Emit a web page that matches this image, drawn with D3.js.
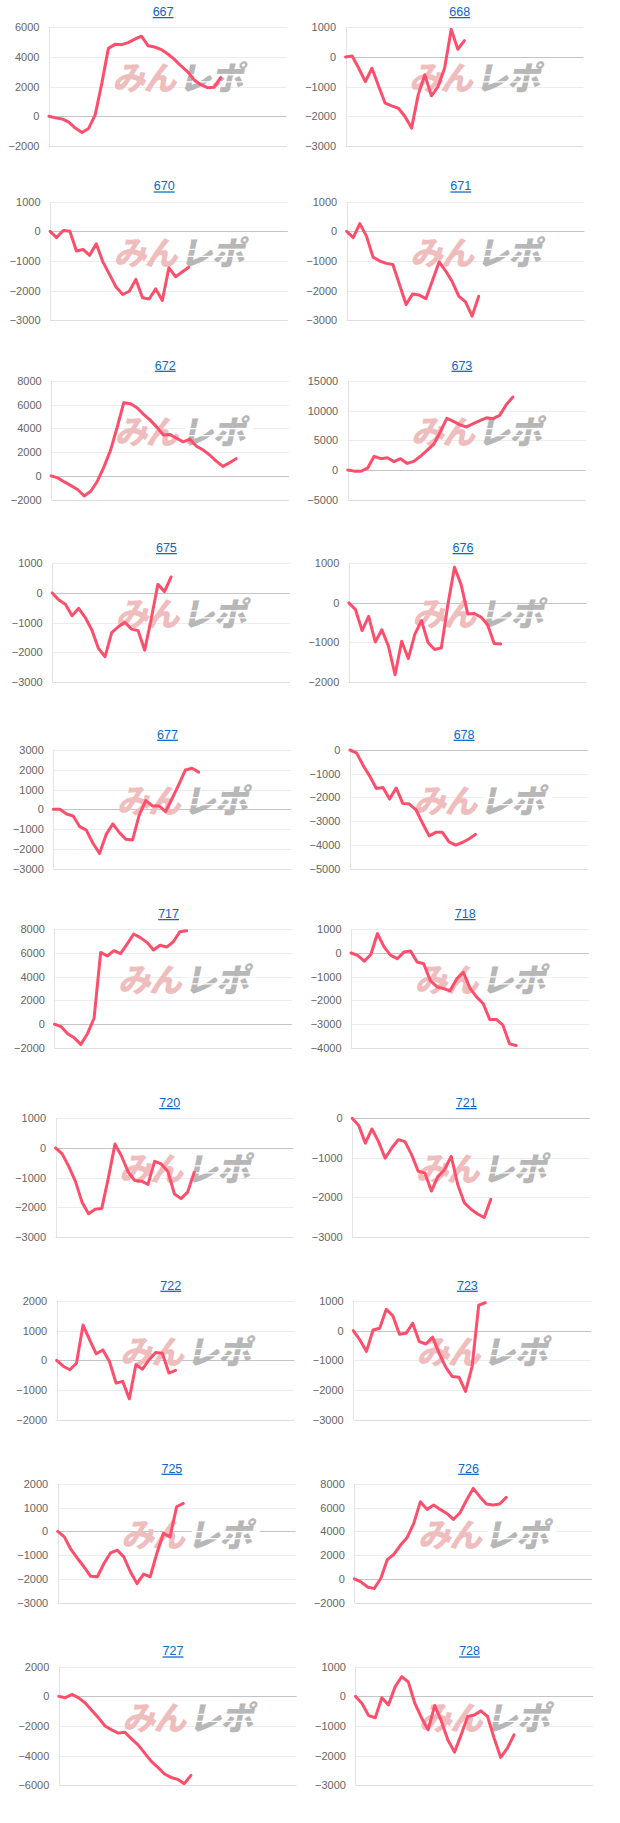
<!DOCTYPE html>
<html><head><meta charset="utf-8">
<script src="https://cdn.jsdelivr.net/npm/d3@7"></script>
<style>
body{margin:0;background:#fff;}
svg{display:block;}
</style></head><body>
<svg id="c" width="620" height="1823"></svg>
<script>
// ---------- DATA ----------
const machines = ["667","668","670","671","672","673","675","676","677","678","717","718","720","721","722","723","725","726","727","728"];
const slotCount = 37;

const s667 = [0,-110,-180,-400,-800,-1100,-830,90,2200,4580,4850,4830,4970,5200,5400,4760,4670,4500,4200,3840,3390,3000,2450,2130,1930,1950,2600];
const s668 = [0,30,-380,-830,-380,-980,-1560,-1650,-1730,-2010,-2400,-1280,-600,-1310,-1000,-380,930,260,550];
const s670 = [0,-210,30,0,-660,-610,-810,-420,-1030,-1450,-1880,-2130,-2020,-1620,-2240,-2280,-1940,-2330,-1230,-1530,-1370,-1210];
const s671 = [0,-210,260,-160,-870,-1000,-1080,-1120,-1790,-2470,-2110,-2150,-2270,-1660,-1030,-1340,-1700,-2190,-2380,-2860,-2190];
const s672 = [0,-170,-510,-820,-1150,-1700,-1300,-450,760,2170,4100,6170,6080,5750,5190,4700,4110,3450,3480,3170,2870,3100,2500,2190,1760,1250,800,1100,1450];
const s673 = [0,-200,-220,300,2300,1900,2050,1400,1900,1100,1450,2300,3300,4300,6400,8700,8200,7600,7250,7800,8300,8800,8650,9200,11000,12300];
const s675 = [0,-240,-380,-770,-520,-830,-1250,-1870,-2150,-1340,-1140,-990,-1220,-1270,-1930,-860,290,45,540];
const s676 = [0,-170,-700,-340,-990,-680,-1100,-1820,-970,-1410,-790,-450,-1010,-1180,-1140,-40,900,460,-280,-270,-360,-550,-1030,-1040];
const s677 = [0,0,-240,-340,-880,-1050,-1720,-2230,-1270,-740,-1180,-1520,-1550,-290,440,170,170,-120,560,1250,1990,2080,1880];
const s678 = [0,-120,-650,-1100,-1620,-1580,-2070,-1600,-2250,-2280,-2520,-3090,-3620,-3470,-3470,-3870,-4010,-3900,-3750,-3560];
const s717 = [0,-200,-800,-1150,-1700,-800,500,6050,5750,6200,5950,6750,7600,7300,6900,6250,6650,6500,6950,7800,7870];
const s718 = [0,-100,-340,-60,820,260,-100,-240,40,90,-380,-450,-1160,-1420,-1500,-1590,-1090,-810,-1480,-1850,-2130,-2800,-2800,-3040,-3830,-3900];
const s720 = [0,-200,-620,-1120,-1820,-2220,-2070,-2040,-1010,130,-280,-810,-1100,-1120,-1230,-450,-540,-790,-1550,-1710,-1490,-820];
const s721 = [0,-180,-630,-270,-590,-1010,-750,-540,-590,-920,-1340,-1380,-1840,-1470,-1300,-960,-1680,-2140,-2300,-2420,-2510,-2050];
const s722 = [0,-200,-320,-100,1190,690,220,350,-40,-770,-710,-1300,-150,-300,20,260,240,-430,-340];
const s723 = [0,-310,-700,20,80,720,500,-120,-90,250,-370,-450,-220,-760,-1230,-1550,-1570,-2050,-1210,860,940];
const s725 = [0,-230,-760,-1140,-1500,-1890,-1910,-1350,-900,-790,-1070,-1700,-2200,-1800,-1910,-930,-80,-230,1040,1180];
const s726 = [0,-250,-680,-820,30,1630,2080,2850,3490,4680,6510,5860,6230,5860,5520,5010,5580,6650,7630,6930,6310,6230,6310,6870];
const s727 = [0,-90,130,-100,-450,-950,-1450,-2000,-2260,-2480,-2420,-2870,-3270,-3830,-4390,-4790,-5240,-5470,-5600,-5890,-5330];
const s728 = [0,-240,-650,-720,-45,-290,320,660,490,-240,-720,-1130,-310,-830,-1470,-1880,-1300,-680,-630,-490,-680,-1410,-2060,-1750,-1300];

const seriesList = [s667,s668,s670,s671,s672,s673,s675,s676,s677,s678,s717,s718,s720,s721,s722,s723,s725,s726,s727,s728];

const yTicks667 = [-2000,0,2000,4000,6000];
const yTicks668 = [-3000,-2000,-1000,0,1000];
const yTicks672 = [-2000,0,2000,4000,6000,8000];
const yTicks673 = [-5000,0,5000,10000,15000];
const yTicks676 = [-2000,-1000,0,1000];
const yTicks677 = [-3000,-2000,-1000,0,1000,2000,3000];
const yTicks678 = [-5000,-4000,-3000,-2000,-1000,0];
const yTicks718 = [-4000,-3000,-2000,-1000,0,1000];
const yTicks721 = [-3000,-2000,-1000,0];
const yTicks722 = [-2000,-1000,0,1000,2000];
const yTicks725 = [-3000,-2000,-1000,0,1000,2000];
const yTicks727 = [-6000,-4000,-2000,0,2000];
const tickSets = [yTicks667,yTicks668,yTicks668,yTicks668,yTicks672,yTicks673,yTicks668,yTicks676,yTicks677,yTicks678,
                  yTicks672,yTicks718,yTicks668,yTicks721,yTicks722,yTicks668,yTicks725,yTicks672,yTicks727,yTicks668];

// ---------- LAYOUT ----------
const rowTop = [27.3,201.7,381,563.3,750,929.3,1118.3,1301,1484,1666.7];
const plotH = 118.6;
const rightBase = [286.7,583.3];
const rowDrift = 1.1;
const basePlotW = 235;
const lineColor = "rgb(255,78,108)";
const labelFont = "11px 'Liberation Sans', Arial, sans-serif";

const svg = d3.select("#c");

// text measurement
const meas = svg.append("text").style("font", labelFont).attr("x",-100).attr("y",-100);
function tw(s){ meas.text(s); return meas.node().getComputedTextLength(); }
const refW = tw("-2000");

machines.forEach((m,i)=>{
  const r = Math.floor(i/2), c = i%2;
  const right = rightBase[c] + r*rowDrift;
  const ticks = tickSets[i];
  const fmt = d3.format("d");
  const maxW = d3.max(ticks, t=>tw(fmt(t)));
  const left = right - basePlotW - (maxW - refW);
  const top = rowTop[r], bottom = top + plotH;
  const titleX = right - 123.6;

  const g = svg.append("g");

  // title link
  g.append("text").attr("x",titleX).attr("y",top-11.3)
    .attr("text-anchor","middle")
    .style("font","12.5px 'Liberation Sans', Arial, sans-serif")
    .style("fill","#0b67c8").style("text-decoration","underline")
    .text(m);

  const x = d3.scaleLinear().domain([0, slotCount-1]).range([left, right]);
  const y = d3.scaleLinear().domain(d3.extent(ticks)).range([bottom, top]);

  // grid
  ticks.forEach(t=>{
    const yy = Math.round(y(t))+0.5;
    g.append("line").attr("x1",left).attr("x2",right).attr("y1",yy).attr("y2",yy)
      .attr("stroke", t===0 ? "#c4c4c4" : (t===ticks[0] ? "#dedede" : "#ececec"))
      .attr("stroke-width",1);
  });
  // axis line
  const ax = Math.round(left)+0.5;
  g.append("line").attr("x1",ax).attr("x2",ax).attr("y1",top).attr("y2",bottom)
    .attr("stroke","#e4e4e4");

  // tick labels via d3 axis
  const axis = d3.axisLeft(y).tickValues(ticks).tickFormat(fmt).tickSize(0).tickPadding(9.5);
  const ag = g.append("g").attr("transform",`translate(${left},0)`).call(axis);
  ag.select(".domain").remove();
  ag.selectAll("text").style("font",labelFont).attr("fill","#666");

  // watermark
  const wx = titleX + 15, wy = top + 51;
  const wm = g.append("g").attr("transform",`translate(${wx},${wy}) skewX(-12)`);
  wm.append("text").attr("x",-1).attr("y",12).attr("text-anchor","end")
    .style("font","900 33px 'Noto Sans CJK JP', sans-serif").attr("fill","#efbdbd")
    .attr("letter-spacing","-2").text("みん");
  wm.append("text").attr("x",3).attr("y",12).attr("text-anchor","start")
    .style("font","900 33px 'Noto Sans CJK JP', sans-serif").attr("fill","#b7b7b7")
    .attr("letter-spacing","-1").text("レポ");
  [ -4, 3 ].forEach(dy=>{
    wm.append("rect").attr("x",4).attr("y",dy).attr("width",68).attr("height",1.3).attr("fill","#fff");
  });

  // line
  const data = seriesList[i];
  const line = d3.line().x((d,k)=>x(k)).y(d=>y(d));
  g.append("path").datum(data).attr("d",line)
    .attr("fill","none").attr("stroke",lineColor).attr("stroke-width",3)
    .attr("stroke-linejoin","round").attr("stroke-linecap","round");
});
meas.remove();
</script>
</body></html>
